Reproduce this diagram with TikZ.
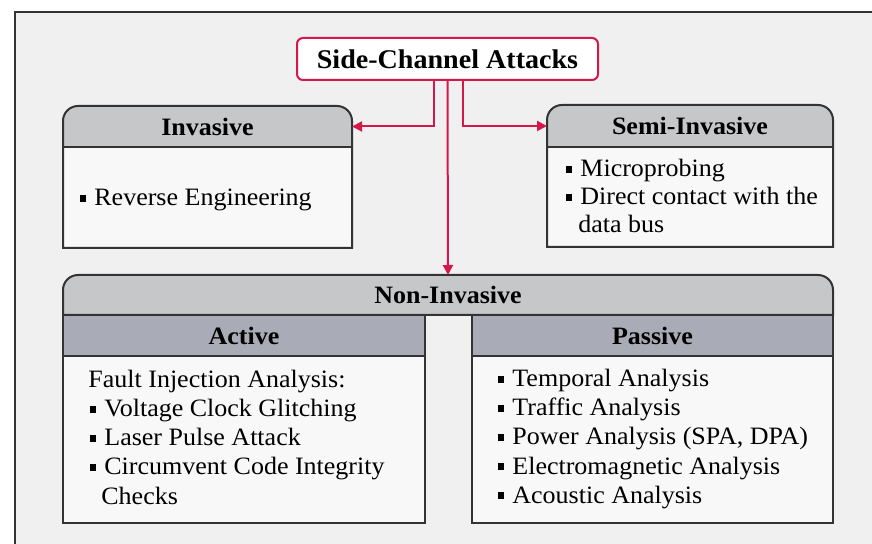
\documentclass[tikz,border=0pt]{standalone}
\usepackage{fontspec}
\setmainfont{Liberation Serif}[FakeStretch=1.04]
\usetikzlibrary{arrows.meta}
\definecolor{bg}{HTML}{F0F0F0}
\definecolor{bodyc}{HTML}{F8F8F8}
\definecolor{hdrA}{HTML}{C6C7C9}
\definecolor{hdrB}{HTML}{A9ACB6}
\definecolor{crim}{HTML}{D5184C}
\definecolor{edgec}{HTML}{333333}
\newcommand{\bul}{\rule[2pt]{3pt}{3.4pt}\hspace{4pt}}
\tikzset{
  area/.style={rectangle,inner sep=0pt,outer sep=0pt,anchor=north west,draw=none},
  hdr/.style={area,font=\fontsize{12.5}{14.5}\selectfont\bfseries},
  txt/.style={anchor=base west,inner sep=0pt,font=\fontsize{12.5}{14.5}\selectfont},
  boxline/.style={draw=edgec,line width=1pt},
  conn/.style={draw=crim,line width=1pt,-{Triangle[length=5pt,width=5pt]}},
  rtop/.style={insert path={(#1.south west) -- ([yshift=-7.5pt]#1.north west) arc[start angle=180,end angle=90,radius=7.5pt] -- ([xshift=-7.5pt]#1.north east) arc[start angle=90,end angle=0,radius=7.5pt] -- (#1.south east) -- cycle}}
}
\begin{document}
\begin{tikzpicture}[x=0.5pt,y=0.5pt]
\useasboundingbox (0,0) rectangle (872,-544);
\fill[white] (0,0) rectangle (872,-544);
\fill[bg] (15,-12) rectangle (872,-544);
\draw[line width=1.2pt,edgec] (15,-544) -- (15,-12) -- (872,-12);

% Title
\node[area,minimum width=150.5pt,minimum height=21pt,draw=crim,line width=1pt,fill=white,rounded corners=3pt,font=\fontsize{13.5}{15}\selectfont\bfseries,anchor=north west] (title) at (297,-38) {Side-Channel Attacks};

% Invasive
\node[area,minimum width=144.5pt,minimum height=71pt] (inv) at (63,-106) {};
\path[fill=hdrA,rtop=inv];
\fill[bodyc] (63,-147) rectangle (352,-248);
\node[hdr,minimum width=144.5pt,minimum height=20.5pt] (invh) at (63,-106) {Invasive};
\draw[boxline] (invh.south west) -- (invh.south east);
\path[boxline,rtop=inv];
\node[txt] (inv1) at (80,-206) {\bul Reverse Engineering};

% Semi-Invasive
\node[area,minimum width=143pt,minimum height=71pt] (semi) at (547,-105) {};
\path[fill=hdrA,rtop=semi];
\fill[bodyc] (547,-147) rectangle (833,-247);
\node[hdr,minimum width=143pt,minimum height=21pt] (semih) at (547,-105) {Semi-Invasive};
\draw[boxline] (semih.south west) -- (semih.south east);
\path[boxline,rtop=semi];
\node[txt] (semi1) at (566,-177) {\bul Microprobing};
\node[txt] (semi2) at (566,-205) {\bul Direct contact with the};
\node[txt] (semi3) at (578,-233) {data bus};

% Non-Invasive header
\node[hdr,minimum width=385pt,minimum height=20pt] (nih) at (63,-275) {};
\path[fill=hdrA,rtop=nih];
\path[boxline,rtop=nih];
\node[font=\fontsize{12.5}{14.5}\selectfont\bfseries] (nitxt) at (nih.center) {Non-Invasive};

% Active
\node[area,minimum width=181pt,minimum height=104pt,fill=bodyc] (act) at (63,-315) {};
\node[hdr,minimum width=181pt,minimum height=20.5pt,fill=hdrB] (acth) at (63,-315) {Active};
\draw[boxline] (acth.south west) -- (acth.south east);
\draw[boxline] (act.north west) rectangle (act.south east);
\node[txt] (act0) at (88,-388) {Fault Injection Analysis:};
\node[txt] (act1) at (90,-417) {\bul Voltage Clock Glitching};
\node[txt] (act2) at (90,-446) {\bul Laser Pulse Attack};
\node[txt] (act3) at (90,-475) {\bul Circumvent Code Integrity};
\node[txt] (act4) at (101,-504) {Checks};

% Passive
\node[area,minimum width=180.5pt,minimum height=104pt,fill=bodyc] (pas) at (472,-315) {};
\node[hdr,minimum width=180.5pt,minimum height=20.5pt,fill=hdrB] (pash) at (472,-315) {Passive};
\draw[boxline] (pash.south west) -- (pash.south east);
\draw[boxline] (pas.north west) rectangle (pas.south east);
\node[txt] (pas1) at (498,-387) {\bul Temporal Analysis};
\node[txt] (pas2) at (498,-416) {\bul Traffic Analysis};
\node[txt] (pas3) at (498,-445) {\bul Power Analysis (SPA, DPA)};
\node[txt] (pas4) at (498,-474) {\bul Electromagnetic Analysis};
\node[txt] (pas5) at (498,-503) {\bul Acoustic Analysis};

% Connectors
\draw[conn] ([xshift=-7pt]title.south) |- (invh.east);
\draw[conn] ([xshift=7.5pt]title.south) |- (semih.west);
\draw[conn] (title.south) -- (nih.north);
\end{tikzpicture}
\end{document}
